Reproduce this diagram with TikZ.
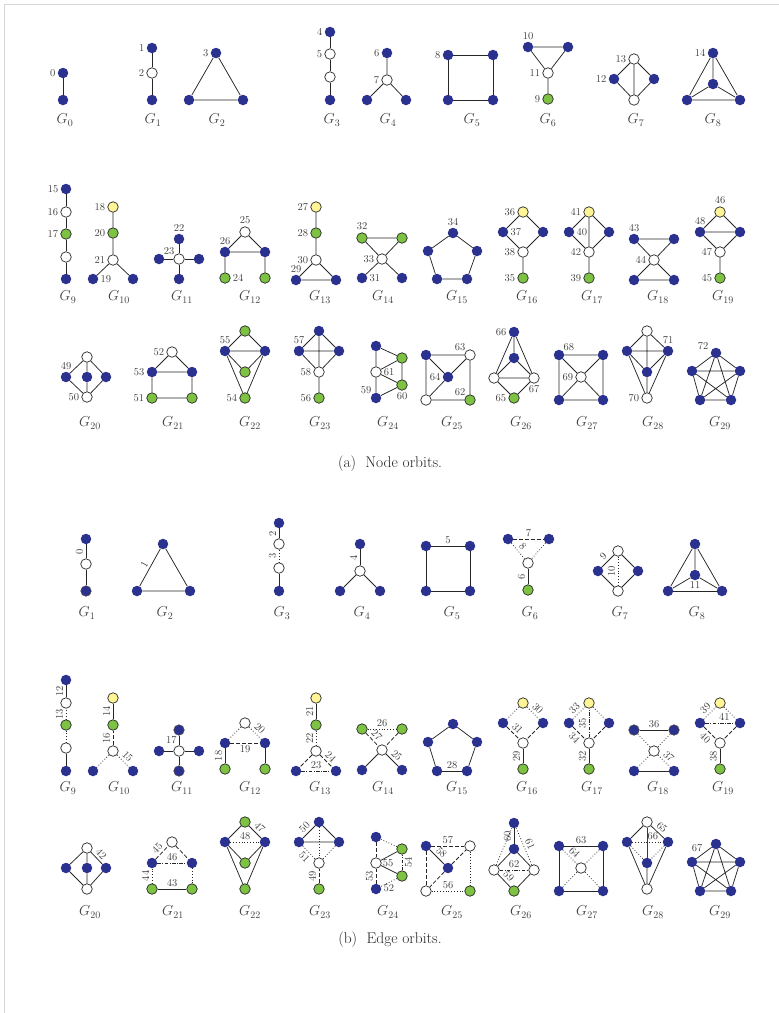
\documentclass[tikz,border=0pt]{standalone}
\usepackage{tikz}
\usetikzlibrary{positioning}
\definecolor{nblue}{RGB}{43,49,143}
\definecolor{ngreen}{RGB}{125,194,66}
\definecolor{nyellow}{RGB}{255,245,150}
\definecolor{framegray}{RGB}{215,215,215}

\begin{document}
\begin{tikzpicture}[x=1pt, y=-1pt,
  vb/.style={circle, fill=nblue, minimum size=10.5pt, inner sep=0pt},
  vbd/.style={vb, draw=black!70, line width=0.6pt},
  vw/.style={vb, fill=white, draw=black!85, line width=0.7pt},
  vg/.style={vw, fill=ngreen},
  vy/.style={vw, fill=nyellow},
  num/.style={font=\fontsize{10.5}{10.5}\selectfont, text=black!75, inner sep=2pt},
  gname/.style={font=\fontsize{14}{14}\selectfont, text=black!75},
  captext/.style={font=\fontsize{15.5}{16}\selectfont, text=black!85},
  ln/.style={draw=black!85, line width=0.75pt},
  dsh/.style={ln, dash pattern=on 4pt off 2pt},
  dtt/.style={ln, dash pattern=on 0.8pt off 2pt},
  dd/.style={ln, dash pattern=on 3.5pt off 1.5pt on 0.8pt off 1.5pt},
  el/.style={num, sloped, above, inner sep=2.5pt}]

  \useasboundingbox (0,0) rectangle (779,1013);
  \draw[framegray, line width=1pt] (4,1013) -- (4,4) -- (779,4);

  % ---------------- (a) node orbits, row 1
  \node[vb, label={[num]left:0}] (a0a) at (63,73) {};
  \node[vb] (a0b) at (63,100) {};
  \draw[ln] (a0a) -- (a0b);
  \node[gname] (ga0) at (65,120) {$G_{0}$};

  \node[vb, label={[num]left:1}] (a1a) at (152,48) {};
  \node[vw, label={[num]left:2}] (a1b) at (152,73) {};
  \node[vb] (a1c) at (152,100) {};
  \draw[ln] (a1a) -- (a1b) (a1b) -- (a1c);
  \node[gname] (ga1) at (153,120) {$G_{1}$};

  \node[vb, label={[num]left:3}] (a2a) at (216,53) {};
  \node[vb] (a2b) at (189,100) {};
  \node[vb] (a2c) at (243,100) {};
  \draw[ln] (a2a) -- (a2b) (a2b) -- (a2c) (a2c) -- (a2a);
  \node[gname] (ga2) at (217,120) {$G_{2}$};

  \node[vb, label={[num]left:4}] (a3a) at (330,32) {};
  \node[vw, label={[num]left:5}] (a3b) at (330,54) {};
  \node[vw] (a3c) at (330,77) {};
  \node[vb] (a3d) at (330,100) {};
  \draw[ln] (a3a) -- (a3b) (a3b) -- (a3c) (a3c) -- (a3d);
  \node[gname] (ga3) at (332,120) {$G_{3}$};

  \node[vb, label={[num]left:6}] (a4a) at (387,53) {};
  \node[vw, label={[num]left:7}] (a4b) at (387,80) {};
  \node[vb] (a4c) at (367,100) {};
  \node[vb] (a4d) at (406,100) {};
  \draw[ln] (a4a) -- (a4b) (a4b) -- (a4c) (a4b) -- (a4d);
  \node[gname] (ga4) at (388,120) {$G_{4}$};

  \node[vb, label={[num]left:8}] (a5a) at (448,55) {};
  \node[vb] (a5b) at (493,55) {};
  \node[vb] (a5c) at (493,100) {};
  \node[vb] (a5d) at (448,100) {};
  \draw[ln] (a5a) -- (a5b) (a5b) -- (a5c) (a5c) -- (a5d) (a5d) -- (a5a);
  \node[gname] (ga5) at (472,120) {$G_{5}$};

  \node[vb, label={[num]above:10}] (a6a) at (528,47) {};
  \node[vb] (a6b) at (568,47) {};
  \node[vw, label={[num]left:11}] (a6c) at (548,73) {};
  \node[vg, label={[num]left:9}] (a6d) at (548,99) {};
  \draw[ln] (a6a) -- (a6b) (a6a) -- (a6c) (a6b) -- (a6c) (a6c) -- (a6d);
  \node[gname] (ga6) at (548,120) {$G_{6}$};

  \node[vw, label={[num]left:13}] (a7a) at (634,59) {};
  \node[vb, label={[num]left:12}] (a7b) at (614,79) {};
  \node[vb] (a7c) at (654,79) {};
  \node[vw] (a7d) at (634,100) {};
  \draw[ln] (a7a) -- (a7b) (a7a) -- (a7c) (a7b) -- (a7d) (a7c) -- (a7d) (a7a) -- (a7d);
  \node[gname] (ga7) at (636,120) {$G_{7}$};

  \node[vb, label={[num]left:14}] (a8a) at (713,53) {};
  \node[vb] (a8b) at (713,84) {};
  \node[vb] (a8c) at (687,100) {};
  \node[vb] (a8d) at (740,100) {};
  \draw[ln] (a8a) -- (a8b) (a8a) -- (a8c) (a8a) -- (a8d) (a8b) -- (a8c) (a8b) -- (a8d) (a8c) -- (a8d);
  \node[gname] (ga8) at (713,120) {$G_{8}$};

  % ---------------- (a) row 2
  \node[vb, label={[num]left:15}] (a9a) at (66,189) {};
  \node[vw, label={[num]left:16}] (a9b) at (66,212) {};
  \node[vg, label={[num]left:17}] (a9c) at (66,234) {};
  \node[vw] (a9d) at (66,257) {};
  \node[vb] (a9e) at (66,279) {};
  \draw[ln] (a9a) -- (a9b) (a9b) -- (a9c) (a9c) -- (a9d) (a9d) -- (a9e);
  \node[gname] (ga9) at (68,297) {$G_{9}$};

  \node[vy, label={[num]left:18}] (a10a) at (113,207) {};
  \node[vg, label={[num]left:20}] (a10b) at (113,233) {};
  \node[vw, label={[num]left:21}] (a10c) at (113,260) {};
  \node[vb, label={[num]right:19}] (a10d) at (93,279) {};
  \node[vb] (a10e) at (133,279) {};
  \draw[ln] (a10a) -- (a10b) (a10b) -- (a10c) (a10c) -- (a10d) (a10c) -- (a10e);
  \node[gname] (ga10) at (119,297) {$G_{10}$};

  \node[vb, label={[num]above:22}] (a11a) at (179,239) {};
  \node[vw, label={[num, inner sep=0.5pt]above left:23}] (a11b) at (179,259) {};
  \node[vb] (a11c) at (159,259) {};
  \node[vb] (a11d) at (199,259) {};
  \node[vb] (a11e) at (179,279) {};
  \draw[ln] (a11b) -- (a11a) (a11b) -- (a11c) (a11b) -- (a11d) (a11b) -- (a11e);
  \node[gname] (ga11) at (182,297) {$G_{11}$};

  \node[vw, label={[num]above:25}] (a12a) at (245,232) {};
  \node[vb, label={[num]above:26}] (a12b) at (225,252) {};
  \node[vb] (a12c) at (265,252) {};
  \node[vg, label={[num]right:24}] (a12d) at (225,278) {};
  \node[vg] (a12e) at (265,278) {};
  \draw[ln] (a12a) -- (a12b) (a12a) -- (a12c) (a12b) -- (a12c) (a12b) -- (a12d) (a12c) -- (a12e);
  \node[gname] (ga12) at (250,297) {$G_{12}$};

  \node[vy, label={[num]left:27}] (a13a) at (316,207) {};
  \node[vg, label={[num]left:28}] (a13b) at (316,233) {};
  \node[vw, label={[num]left:30}] (a13c) at (316,260) {};
  \node[vb, label={[num]above:29}] (a13d) at (296,280) {};
  \node[vb] (a13e) at (336,280) {};
  \draw[ln] (a13a) -- (a13b) (a13b) -- (a13c) (a13c) -- (a13d) (a13c) -- (a13e) (a13d) -- (a13e);
  \node[gname] (ga13) at (320,297) {$G_{13}$};

  \node[vg, label={[num]above:32}] (a14a) at (362,238) {};
  \node[vg] (a14b) at (402,238) {};
  \node[vw, label={[num]left:33}] (a14c) at (382,259) {};
  \node[vb, label={[num]right:31}] (a14d) at (362,278) {};
  \node[vb] (a14e) at (402,278) {};
  \draw[ln] (a14a) -- (a14b) (a14a) -- (a14c) (a14b) -- (a14c) (a14c) -- (a14d) (a14c) -- (a14e);
  \node[gname] (ga14) at (383,297) {$G_{14}$};

  \node[vb, label={[num]above:34}] (a15a) at (453,233) {};
  \node[vb] (a15b) at (477,251) {};
  \node[vb] (a15c) at (467,279) {};
  \node[vb] (a15d) at (437,279) {};
  \node[vb] (a15e) at (428,251) {};
  \draw[ln] (a15a) -- (a15b) (a15b) -- (a15c) (a15c) -- (a15d) (a15d) -- (a15e) (a15e) -- (a15a);
  \node[gname] (ga15) at (457,297) {$G_{15}$};

  \node[vy, label={[num]left:36}] (a16a) at (523,212) {};
  \node[vb, label={[num]right:37}] (a16b) at (503,232) {};
  \node[vb] (a16c) at (543,232) {};
  \node[vw, label={[num]left:38}] (a16d) at (523,252) {};
  \node[vg, label={[num]left:35}] (a16e) at (523,278) {};
  \draw[ln] (a16a) -- (a16b) (a16a) -- (a16c) (a16b) -- (a16d) (a16c) -- (a16d) (a16d) -- (a16e);
  \node[gname] (ga16) at (527,297) {$G_{16}$};

  \node[vy, label={[num]left:41}] (a17a) at (589,212) {};
  \node[vb, label={[num]right:40}] (a17b) at (569,232) {};
  \node[vb] (a17c) at (609,232) {};
  \node[vw, label={[num]left:42}] (a17d) at (589,252) {};
  \node[vg, label={[num]left:39}] (a17e) at (589,278) {};
  \draw[ln] (a17a) -- (a17b) (a17a) -- (a17c) (a17a) -- (a17d) (a17b) -- (a17d) (a17c) -- (a17d) (a17d) -- (a17e);
  \node[gname] (ga17) at (592,297) {$G_{17}$};

  \node[vb, label={[num]above:43}] (a18a) at (634,239) {};
  \node[vb] (a18b) at (674,239) {};
  \node[vw, label={[num]left:44}] (a18c) at (654,260) {};
  \node[vb] (a18d) at (634,280) {};
  \node[vb] (a18e) at (674,280) {};
  \draw[ln] (a18a) -- (a18b) (a18a) -- (a18c) (a18b) -- (a18c) (a18c) -- (a18d) (a18c) -- (a18e) (a18d) -- (a18e);
  \node[gname] (ga18) at (658,297) {$G_{18}$};

  \node[vy, label={[num]above:46}] (a19a) at (720,212) {};
  \node[vb, label={[num]above:48}] (a19b) at (700,232) {};
  \node[vb] (a19c) at (740,232) {};
  \node[vw, label={[num]left:47}] (a19d) at (720,252) {};
  \node[vg, label={[num]left:45}] (a19e) at (720,278) {};
  \draw[ln] (a19a) -- (a19b) (a19a) -- (a19c) (a19b) -- (a19c) (a19b) -- (a19d) (a19c) -- (a19d) (a19d) -- (a19e);
  \node[gname] (ga19) at (723,297) {$G_{19}$};

  % ---------------- (a) row 3
  \node[vw] (a20a) at (87,357) {};
  \node[vb, label={[num]above:49}] (a20b) at (66,377) {};
  \node[vb] (a20c) at (87,377) {};
  \node[vb] (a20d) at (106,377) {};
  \node[vw, label={[num]left:50}] (a20e) at (87,397) {};
  \draw[ln] (a20a) -- (a20b) (a20a) -- (a20c) (a20a) -- (a20d) (a20b) -- (a20e) (a20c) -- (a20e) (a20d) -- (a20e);
  \node[gname] (ga20) at (90,423) {$G_{20}$};

  \node[vw, label={[num]left:52}] (a21a) at (172,352) {};
  \node[vb, label={[num]left:53}] (a21b) at (152,372) {};
  \node[vb] (a21c) at (192,372) {};
  \node[vg, label={[num]left:51}] (a21d) at (152,398) {};
  \node[vg] (a21e) at (192,398) {};
  \draw[ln] (a21a) -- (a21b) (a21a) -- (a21c) (a21b) -- (a21c) (a21b) -- (a21d) (a21c) -- (a21e) (a21d) -- (a21e);
  \node[gname] (ga21) at (173,423) {$G_{21}$};

  \node[vg] (a22a) at (245,331) {};
  \node[vb, label={[num]above:55}] (a22b) at (225,351) {};
  \node[vb] (a22c) at (265,351) {};
  \node[vg] (a22d) at (245,372) {};
  \node[vg, label={[num]left:54}] (a22e) at (245,398) {};
  \draw[ln] (a22a) -- (a22b) (a22a) -- (a22c) (a22b) -- (a22c) (a22b) -- (a22d) (a22c) -- (a22d) (a22b) -- (a22e) (a22c) -- (a22e);
  \node[gname] (ga22) at (250,423) {$G_{22}$};

  \node[vb] (a23a) at (319,331) {};
  \node[vb, label={[num]above:57}] (a23b) at (299,351) {};
  \node[vb] (a23c) at (339,351) {};
  \node[vw, label={[num]left:58}] (a23d) at (319,372) {};
  \node[vg, label={[num]left:56}] (a23e) at (319,398) {};
  \draw[ln] (a23a) -- (a23b) (a23a) -- (a23c) (a23b) -- (a23c) (a23a) -- (a23d) (a23b) -- (a23d) (a23c) -- (a23d) (a23d) -- (a23e);
  \node[gname] (ga23) at (320,423) {$G_{23}$};

  \node[vb] (a24a) at (376,346) {};
  \node[vw, label={[num]right:61}] (a24b) at (376,372) {};
  \node[vb, label={[num, inner sep=0.5pt]above left:59}] (a24c) at (376,398) {};
  \node[vg] (a24d) at (402,358) {};
  \node[vg, label={[num]below:60}] (a24e) at (402,385) {};
  \draw[ln] (a24a) -- (a24b) (a24b) -- (a24c) (a24a) -- (a24d) (a24b) -- (a24d) (a24b) -- (a24e) (a24d) -- (a24e) (a24e) -- (a24c);
  \node[gname] (ga24) at (388,423) {$G_{24}$};

  \node[vb] (a25a) at (426,355) {};
  \node[vw, label={[num, inner sep=0.5pt]above left:63}] (a25b) at (470,355) {};
  \node[vb, label={[num]left:64}] (a25c) at (448,377) {};
  \node[vw] (a25d) at (426,400) {};
  \node[vg, label={[num, inner sep=0.5pt]above left:62}] (a25e) at (470,400) {};
  \draw[ln] (a25a) -- (a25b) (a25a) -- (a25d) (a25b) -- (a25e) (a25d) -- (a25e) (a25a) -- (a25c) (a25c) -- (a25b) (a25c) -- (a25d);
  \node[gname] (ga25) at (452,423) {$G_{25}$};

  \node[vb, label={[num]left:66}] (a26a) at (514,332) {};
  \node[vb] (a26b) at (514,358) {};
  \node[vw] (a26c) at (494,378) {};
  \node[vw, label={[num]below:67}] (a26d) at (534,378) {};
  \node[vg, label={[num]left:65}] (a26e) at (514,398) {};
  \draw[ln] (a26a) -- (a26b) (a26a) -- (a26c) (a26a) -- (a26d) (a26b) -- (a26c) (a26b) -- (a26d) (a26c) -- (a26d) (a26c) -- (a26e) (a26d) -- (a26e);
  \node[gname] (ga26) at (521,423) {$G_{26}$};

  \node[vb, label={[num, inner sep=0.5pt]above right:68}] (a27a) at (559,355) {};
  \node[vb] (a27b) at (603,355) {};
  \node[vw, label={[num]left:69}] (a27c) at (581,377) {};
  \node[vb] (a27d) at (559,400) {};
  \node[vb] (a27e) at (603,400) {};
  \draw[ln] (a27a) -- (a27b) (a27b) -- (a27e) (a27e) -- (a27d) (a27d) -- (a27a) (a27a) -- (a27c) (a27b) -- (a27c) (a27d) -- (a27c) (a27e) -- (a27c);
  \node[gname] (ga27) at (587,423) {$G_{27}$};

  \node[vw] (a28a) at (647,331) {};
  \node[vb] (a28b) at (627,351) {};
  \node[vb, label={[num]above:71}] (a28c) at (668,351) {};
  \node[vb] (a28d) at (647,372) {};
  \node[vw, label={[num]left:70}] (a28e) at (647,398) {};
  \draw[ln] (a28a) -- (a28b) (a28a) -- (a28c) (a28b) -- (a28c) (a28a) -- (a28d) (a28b) -- (a28d) (a28c) -- (a28d) (a28b) -- (a28e) (a28c) -- (a28e) (a28d) -- (a28e);
  \node[gname] (ga28) at (653,423) {$G_{28}$};

  \node[vb, label={[num]170:72}] (a29a) at (716,353) {};
  \node[vb] (a29b) at (740,371) {};
  \node[vb] (a29c) at (731,400) {};
  \node[vb] (a29d) at (700,400) {};
  \node[vb] (a29e) at (692,371) {};
  \draw[ln] (a29a) -- (a29b) (a29a) -- (a29c) (a29a) -- (a29d) (a29a) -- (a29e) (a29b) -- (a29c) (a29b) -- (a29d) (a29b) -- (a29e) (a29c) -- (a29d) (a29c) -- (a29e) (a29d) -- (a29e);
  \node[gname] (ga29) at (720,423) {$G_{29}$};

  \node[captext] (capa) at (390,464) {(a)\ \ Node orbits.};

  % ---------------- (b) edge orbits, row 1
  \node[vb] (b1a) at (86,539) {};
  \node[vw] (b1b) at (86,564) {};
  \node[vbd] (b1c) at (86,591) {};
  \draw[ln] (b1b) -- node[el]{0} (b1a);
  \draw[ln] (b1c) -- (b1b);
  \node[gname] (gb1) at (87,613) {$G_{1}$};

  \node[vb] (b2a) at (163,544) {};
  \node[vb] (b2b) at (137,591) {};
  \node[vb] (b2c) at (190,591) {};
  \draw[ln] (b2b) -- node[el]{1} (b2a);
  \draw[ln] (b2b) -- (b2c) (b2a) -- (b2c);
  \node[gname] (gb2) at (165,613) {$G_{2}$};

  \node[vb] (b3a) at (279,523) {};
  \node[vw] (b3b) at (279,544) {};
  \node[vw] (b3c) at (279,568) {};
  \node[vb] (b3d) at (279,591) {};
  \draw[ln] (b3b) -- node[el]{2} (b3a);
  \draw[dtt] (b3c) -- node[el]{3} (b3b);
  \draw[ln] (b3d) -- (b3c);
  \node[gname] (gb3) at (282,613) {$G_{3}$};

  \node[vb] (b4a) at (360,544) {};
  \node[vw] (b4b) at (360,571) {};
  \node[vb] (b4c) at (340,591) {};
  \node[vb] (b4d) at (380,591) {};
  \draw[ln] (b4b) -- node[el]{4} (b4a);
  \draw[ln] (b4b) -- (b4c) (b4b) -- (b4d);
  \node[gname] (gb4) at (362,613) {$G_{4}$};

  \node[vb] (b5a) at (426,546) {};
  \node[vb] (b5b) at (470,546) {};
  \node[vb] (b5c) at (470,591) {};
  \node[vb] (b5d) at (426,591) {};
  \draw[ln] (b5a) -- node[num, above]{5} (b5b);
  \draw[ln] (b5b) -- (b5c) (b5c) -- (b5d) (b5d) -- (b5a);
  \node[gname] (gb5) at (452,613) {$G_{5}$};

  \node[vb] (b6a) at (508,539) {};
  \node[vb] (b6b) at (549,539) {};
  \node[vw] (b6c) at (528,563) {};
  \node[vg] (b6d) at (528,590) {};
  \draw[dsh] (b6a) -- node[num, above]{7} (b6b);
  \draw[dtt] (b6a) -- node[el]{8} (b6c);
  \draw[dtt] (b6b) -- (b6c);
  \draw[ln] (b6d) -- node[el]{6} (b6c);
  \node[gname] (gb6) at (530,613) {$G_{6}$};

  \node[vw] (b7a) at (618,551) {};
  \node[vb] (b7b) at (598,571) {};
  \node[vb] (b7c) at (638,571) {};
  \node[vw] (b7d) at (618,591) {};
  \draw[ln] (b7b) -- node[el]{9} (b7a);
  \draw[ln] (b7a) -- (b7c) (b7b) -- (b7d) (b7c) -- (b7d);
  \draw[dtt] (b7d) -- node[el]{10} (b7a);
  \node[gname] (gb7) at (620,613) {$G_{7}$};

  \node[vb] (b8a) at (695,544) {};
  \node[vb] (b8b) at (695,575) {};
  \node[vb] (b8c) at (668,591) {};
  \node[vb] (b8d) at (722,591) {};
  \draw[ln] (b8c) -- node[num, above]{11} (b8d);
  \draw[ln] (b8a) -- (b8b) (b8a) -- (b8c) (b8a) -- (b8d) (b8b) -- (b8c) (b8b) -- (b8d);
  \node[gname] (gb8) at (697,613) {$G_{8}$};

  % ---------------- (b) row 2
  \node[vb] (b9a) at (66,680) {};
  \node[vw] (b9b) at (66,703) {};
  \node[vg] (b9c) at (66,725) {};
  \node[vw] (b9d) at (66,748) {};
  \node[vb] (b9e) at (66,771) {};
  \draw[ln] (b9b) -- node[el]{12} (b9a);
  \draw[dtt] (b9c) -- node[el]{13} (b9b);
  \draw[dtt] (b9d) -- (b9c);
  \draw[ln] (b9e) -- (b9d);
  \node[gname] (gb9) at (68,788) {$G_{9}$};

  \node[vy] (b10a) at (113,698) {};
  \node[vg] (b10b) at (113,725) {};
  \node[vw] (b10c) at (113,751) {};
  \node[vb] (b10d) at (93,771) {};
  \node[vb] (b10e) at (133,771) {};
  \draw[ln] (b10b) -- node[el]{14} (b10a);
  \draw[dsh] (b10c) -- node[el]{16} (b10b);
  \draw[dtt] (b10c) -- (b10d);
  \draw[dtt] (b10c) -- node[el]{15} (b10e);
  \node[gname] (gb10) at (119,788) {$G_{10}$};

  \node[vbd] (b11a) at (179,730) {};
  \node[vw] (b11b) at (179,751) {};
  \node[vb] (b11c) at (159,751) {};
  \node[vb] (b11d) at (199,751) {};
  \node[vbd] (b11e) at (179,771) {};
  \draw[ln] (b11b) -- node[num, left]{17} (b11a);
  \draw[ln] (b11b) -- (b11c) (b11b) -- (b11d) (b11b) -- (b11e);
  \node[gname] (gb11) at (182,788) {$G_{11}$};

  \node[vw] (b12a) at (245,723) {};
  \node[vb] (b12b) at (225,743) {};
  \node[vb] (b12c) at (265,743) {};
  \node[vg] (b12d) at (225,769) {};
  \node[vg] (b12e) at (265,769) {};
  \draw[dtt] (b12a) -- (b12b);
  \draw[dtt] (b12a) -- node[el]{20} (b12c);
  \draw[dsh] (b12b) -- node[num, below]{19} (b12c);
  \draw[ln] (b12d) -- node[el]{18} (b12b);
  \draw[ln] (b12c) -- (b12e);
  \node[gname] (gb12) at (250,788) {$G_{12}$};

  \node[vy] (b13a) at (316,698) {};
  \node[vg] (b13b) at (316,725) {};
  \node[vw] (b13c) at (316,751) {};
  \node[vb] (b13d) at (296,771) {};
  \node[vb] (b13e) at (336,771) {};
  \draw[ln] (b13b) -- node[el]{21} (b13a);
  \draw[dtt] (b13c) -- node[el]{22} (b13b);
  \draw[dsh] (b13c) -- (b13d);
  \draw[dsh] (b13c) -- node[el]{24} (b13e);
  \draw[dd] (b13d) -- node[num, above]{23} (b13e);
  \node[gname] (gb13) at (320,788) {$G_{13}$};

  \node[vg] (b14a) at (362,729) {};
  \node[vg] (b14b) at (402,729) {};
  \node[vw] (b14c) at (382,750) {};
  \node[vb] (b14d) at (362,770) {};
  \node[vb] (b14e) at (402,770) {};
  \draw[dtt] (b14a) -- node[num, above]{26} (b14b);
  \draw[dsh] (b14a) -- node[el]{27} (b14c);
  \draw[dsh] (b14b) -- (b14c);
  \draw[ln] (b14c) -- (b14d);
  \draw[ln] (b14c) -- node[el]{25} (b14e);
  \node[gname] (gb14) at (383,788) {$G_{14}$};

  \node[vb] (b15a) at (453,724) {};
  \node[vb] (b15b) at (477,742) {};
  \node[vb] (b15c) at (467,771) {};
  \node[vb] (b15d) at (437,771) {};
  \node[vb] (b15e) at (428,742) {};
  \draw[ln] (b15d) -- node[num, above]{28} (b15c);
  \draw[ln] (b15a) -- (b15b) (b15b) -- (b15c) (b15d) -- (b15e) (b15e) -- (b15a);
  \node[gname] (gb15) at (457,788) {$G_{15}$};

  \node[vy] (b16a) at (523,703) {};
  \node[vb] (b16b) at (503,723) {};
  \node[vb] (b16c) at (543,723) {};
  \node[vw] (b16d) at (523,743) {};
  \node[vg] (b16e) at (523,769) {};
  \draw[dtt] (b16a) -- (b16b);
  \draw[dtt] (b16a) -- node[el]{30} (b16c);
  \draw[dsh] (b16b) -- node[el]{31} (b16d);
  \draw[dsh] (b16c) -- (b16d);
  \draw[ln] (b16e) -- node[el]{29} (b16d);
  \node[gname] (gb16) at (527,788) {$G_{16}$};

  \node[vy] (b17a) at (589,703) {};
  \node[vb] (b17b) at (569,723) {};
  \node[vb] (b17c) at (609,723) {};
  \node[vw] (b17d) at (589,743) {};
  \node[vg] (b17e) at (589,769) {};
  \draw[dtt] (b17b) -- node[el]{33} (b17a);
  \draw[dtt] (b17a) -- (b17c);
  \draw[dd] (b17d) -- node[el]{35} (b17a);
  \draw[dsh] (b17b) -- node[el, below]{34} (b17d);
  \draw[dsh] (b17c) -- (b17d);
  \draw[ln] (b17e) -- node[el]{32} (b17d);
  \node[gname] (gb17) at (592,788) {$G_{17}$};

  \node[vbd] (b18a) at (634,730) {};
  \node[vbd] (b18b) at (674,730) {};
  \node[vw] (b18c) at (654,751) {};
  \node[vb] (b18d) at (634,771) {};
  \node[vb] (b18e) at (674,771) {};
  \draw[ln] (b18a) -- node[num, above]{36} (b18b);
  \draw[dtt] (b18a) -- (b18c) (b18b) -- (b18c) (b18c) -- (b18d);
  \draw[dtt] (b18c) -- node[el]{37} (b18e);
  \draw[ln] (b18d) -- (b18e);
  \node[gname] (gb18) at (658,788) {$G_{18}$};

  \node[vy] (b19a) at (720,703) {};
  \node[vb] (b19b) at (700,723) {};
  \node[vb] (b19c) at (740,723) {};
  \node[vw] (b19d) at (720,743) {};
  \node[vg] (b19e) at (720,769) {};
  \draw[dtt] (b19b) -- node[el]{39} (b19a);
  \draw[dtt] (b19a) -- (b19c);
  \draw[dd] (b19b) -- node[num, above, pos=.65]{41} (b19c);
  \draw[dsh] (b19b) -- node[el, below]{40} (b19d);
  \draw[dsh] (b19c) -- (b19d);
  \draw[ln] (b19e) -- node[el]{38} (b19d);
  \node[gname] (gb19) at (723,788) {$G_{19}$};

  % ---------------- (b) row 3
  \node[vw] (b20a) at (87,848) {};
  \node[vb] (b20b) at (66,868) {};
  \node[vb] (b20c) at (87,868) {};
  \node[vb] (b20d) at (106,868) {};
  \node[vw] (b20e) at (87,889) {};
  \draw[ln] (b20a) -- node[el]{42} (b20d);
  \draw[ln] (b20a) -- (b20b) (b20a) -- (b20c) (b20b) -- (b20e) (b20c) -- (b20e) (b20d) -- (b20e);
  \node[gname] (gb20) at (90,912) {$G_{20}$};

  \node[vw] (b21a) at (172,842) {};
  \node[vb] (b21b) at (152,863) {};
  \node[vb] (b21c) at (192,863) {};
  \node[vg] (b21d) at (152,889) {};
  \node[vg] (b21e) at (192,889) {};
  \draw[dsh] (b21b) -- node[el]{45} (b21a);
  \draw[dsh] (b21a) -- (b21c);
  \draw[dd] (b21b) -- node[num, above]{46} (b21c);
  \draw[dtt] (b21d) -- node[el]{44} (b21b);
  \draw[dtt] (b21c) -- (b21e);
  \draw[ln] (b21d) -- node[num, above]{43} (b21e);
  \node[gname] (gb21) at (173,912) {$G_{21}$};

  \node[vg] (b22a) at (245,822) {};
  \node[vb] (b22b) at (225,842) {};
  \node[vb] (b22c) at (265,842) {};
  \node[vg] (b22d) at (245,863) {};
  \node[vg] (b22e) at (245,889) {};
  \draw[ln] (b22a) -- (b22b);
  \draw[ln] (b22a) -- node[el]{47} (b22c);
  \draw[dtt] (b22b) -- node[num, above]{48} (b22c);
  \draw[ln] (b22b) -- (b22d) (b22c) -- (b22d) (b22b) -- (b22e) (b22c) -- (b22e);
  \node[gname] (gb22) at (250,912) {$G_{22}$};

  \node[vb] (b23a) at (319,822) {};
  \node[vb] (b23b) at (299,842) {};
  \node[vb] (b23c) at (339,842) {};
  \node[vw] (b23d) at (319,863) {};
  \node[vg] (b23e) at (319,889) {};
  \draw[ln] (b23b) -- node[el]{50} (b23a);
  \draw[ln] (b23a) -- (b23c) (b23b) -- (b23c);
  \draw[dtt] (b23a) -- (b23d);
  \draw[dtt] (b23b) -- node[el, below]{51} (b23d);
  \draw[dtt] (b23c) -- (b23d);
  \draw[dsh] (b23e) -- node[el]{49} (b23d);
  \node[gname] (gb23) at (320,912) {$G_{23}$};

  \node[vb] (b24a) at (376,837) {};
  \node[vw] (b24b) at (376,863) {};
  \node[vb] (b24c) at (376,889) {};
  \node[vg] (b24d) at (402,849) {};
  \node[vg] (b24e) at (402,876) {};
  \draw[dsh] (b24a) -- (b24b);
  \draw[dsh] (b24c) -- node[el]{53} (b24b);
  \draw[dtt] (b24a) -- (b24d);
  \draw[ln] (b24b) -- (b24d);
  \draw[ln] (b24b) -- node[num, above, pos=.45]{55} (b24e);
  \draw[dd] (b24e) -- node[el, below]{54} (b24d);
  \draw[dtt] (b24e) -- node[num, below]{52} (b24c);
  \node[gname] (gb24) at (388,912) {$G_{24}$};

  \node[vb] (b25a) at (426,846) {};
  \node[vw] (b25b) at (470,846) {};
  \node[vb] (b25c) at (448,868) {};
  \node[vw] (b25d) at (426,891) {};
  \node[vg] (b25e) at (470,891) {};
  \draw[dsh] (b25a) -- node[num, above]{57} (b25b);
  \draw[dsh] (b25a) -- (b25d);
  \draw[ln] (b25a) -- node[el]{58} (b25c);
  \draw[dsh] (b25c) -- (b25b) (b25c) -- (b25d);
  \draw[dtt] (b25b) -- (b25e);
  \draw[dtt] (b25d) -- node[num, above]{56} (b25e);
  \node[gname] (gb25) at (452,912) {$G_{25}$};

  \node[vb] (b26a) at (514,823) {};
  \node[vb] (b26b) at (514,849) {};
  \node[vw] (b26c) at (494,870) {};
  \node[vw] (b26d) at (534,870) {};
  \node[vg] (b26e) at (514,891) {};
  \draw[ln] (b26b) -- node[el]{60} (b26a);
  \draw[dtt] (b26a) -- (b26c);
  \draw[dtt] (b26a) -- node[el]{61} (b26d);
  \draw[ln] (b26b) -- (b26c) (b26b) -- (b26d);
  \draw[dd] (b26c) -- node[num, above]{62} (b26d);
  \draw[ln] (b26c) -- node[el]{59} (b26e);
  \draw[ln] (b26d) -- (b26e);
  \node[gname] (gb26) at (521,912) {$G_{26}$};

  \node[vb] (b27a) at (559,846) {};
  \node[vb] (b27b) at (603,846) {};
  \node[vw] (b27c) at (581,868) {};
  \node[vb] (b27d) at (559,891) {};
  \node[vb] (b27e) at (603,891) {};
  \draw[ln] (b27a) -- node[num, above]{63} (b27b);
  \draw[ln] (b27b) -- (b27e) (b27e) -- (b27d) (b27d) -- (b27a);
  \draw[dtt] (b27a) -- node[el]{64} (b27c);
  \draw[dtt] (b27b) -- (b27c) (b27d) -- (b27c) (b27e) -- (b27c);
  \node[gname] (gb27) at (587,912) {$G_{27}$};

  \node[vw] (b28a) at (647,822) {};
  \node[vb] (b28b) at (627,842) {};
  \node[vb] (b28c) at (668,842) {};
  \node[vb] (b28d) at (647,863) {};
  \node[vw] (b28e) at (647,889) {};
  \draw[ln] (b28a) -- (b28b);
  \draw[ln] (b28a) -- node[el]{65} (b28c);
  \draw[dtt] (b28b) -- node[num, above, pos=.68]{66} (b28c);
  \draw[ln, draw=nblue] (b28a) -- (b28d);
  \draw[dtt] (b28b) -- (b28d) (b28c) -- (b28d);
  \draw[ln] (b28b) -- (b28e) (b28c) -- (b28e) (b28d) -- (b28e);
  \node[gname] (gb28) at (653,912) {$G_{28}$};

  \node[vb] (b29a) at (716,844) {};
  \node[vb] (b29b) at (740,862) {};
  \node[vb] (b29c) at (731,891) {};
  \node[vb] (b29d) at (700,891) {};
  \node[vb] (b29e) at (692,862) {};
  \draw[ln] (b29e) -- node[num, above left=-1pt]{67} (b29a);
  \draw[ln] (b29a) -- (b29b) (b29a) -- (b29c) (b29a) -- (b29d) (b29b) -- (b29c) (b29b) -- (b29d) (b29b) -- (b29e) (b29c) -- (b29d) (b29c) -- (b29e) (b29d) -- (b29e);
  \node[gname] (gb29) at (720,912) {$G_{29}$};

  \node[captext] (capb) at (390,940) {(b)\ \ Edge orbits.};
\end{tikzpicture}
\end{document}
